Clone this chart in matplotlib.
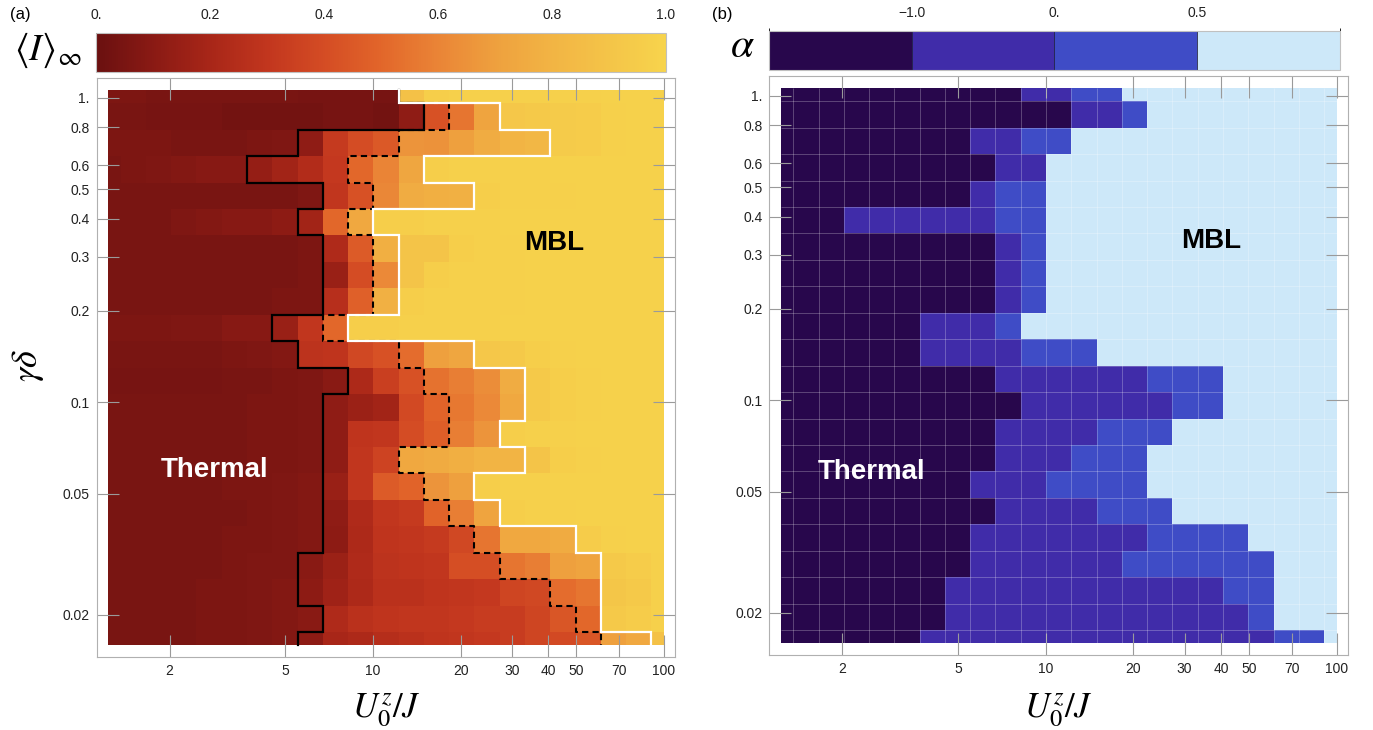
import numpy as np
import matplotlib
matplotlib.use('Agg')
import matplotlib.pyplot as plt
from matplotlib.colors import LinearSegmentedColormap, ListedColormap, BoundaryNorm, Normalize
from matplotlib.cm import ScalarMappable
from matplotlib.ticker import FixedLocator, FixedFormatter, NullLocator

plt.rcParams['font.family'] = ['Liberation Sans', 'DejaVu Sans']
plt.rcParams['mathtext.fontset'] = 'stix'

# grid: U_0^z/J (columns, left -> right) and gamma*delta (rows, top -> bottom)
U = [1.228, 1.500, 1.832, 2.237, 2.732, 3.337, 4.076, 4.979, 6.081, 7.427, 9.072, 11.08,
     13.53, 16.53, 20.19, 24.66, 30.12, 36.79, 44.93, 54.88, 67.03, 81.87, 100.0]
gd = [1.060, 0.868, 0.711, 0.582, 0.476, 0.390, 0.319, 0.262, 0.214, 0.175, 0.1435,
      0.1175, 0.0962, 0.0787, 0.0645, 0.0528, 0.0432, 0.0354, 0.0290, 0.0237, 0.0194, 0.0159]

# panel (a): <I>_inf, one row per gamma*delta
I_inf = [
    [0.06, 0.06, 0.05, 0.05, 0.05, 0.05, 0.05, 0.05, 0.04, 0.04, 0.04, 0.04, 0.88, 0.96, 0.97, 0.97, 0.97, 0.97, 0.97, 0.97, 0.98, 0.98, 0.98],
    [0.05, 0.05, 0.04, 0.04, 0.04, 0.03, 0.03, 0.03, 0.03, 0.04, 0.04, 0.03, 0.12, 0.42, 0.55, 0.72, 0.92, 0.93, 0.94, 0.95, 0.97, 0.98, 0.98],
    [0.06, 0.06, 0.06, 0.05, 0.05, 0.05, 0.06, 0.07, 0.12, 0.32, 0.40, 0.45, 0.66, 0.65, 0.70, 0.76, 0.80, 0.82, 0.94, 0.95, 0.97, 0.98, 0.98],
    [0.05, 0.06, 0.07, 0.08, 0.09, 0.09, 0.14, 0.18, 0.24, 0.31, 0.50, 0.60, 0.73, 0.96, 0.97, 0.97, 0.97, 0.97, 0.98, 0.98, 0.98, 0.98, 0.98],
    [0.05, 0.05, 0.05, 0.05, 0.05, 0.05, 0.05, 0.05, 0.07, 0.30, 0.42, 0.61, 0.76, 0.77, 0.78, 0.96, 0.97, 0.97, 0.97, 0.98, 0.98, 0.98, 0.98],
    [0.05, 0.05, 0.05, 0.07, 0.08, 0.09, 0.09, 0.11, 0.18, 0.50, 0.74, 0.96, 0.96, 0.97, 0.97, 0.97, 0.98, 0.98, 0.98, 0.98, 0.98, 0.98, 0.98],
    [0.05, 0.05, 0.05, 0.05, 0.05, 0.05, 0.05, 0.05, 0.06, 0.23, 0.46, 0.77, 0.90, 0.90, 0.96, 0.97, 0.97, 0.98, 0.98, 0.98, 0.98, 0.98, 0.98],
    [0.05, 0.05, 0.05, 0.05, 0.05, 0.05, 0.05, 0.05, 0.06, 0.15, 0.40, 0.62, 0.90, 0.96, 0.97, 0.97, 0.97, 0.98, 0.98, 0.98, 0.98, 0.98, 0.98],
    [0.05, 0.05, 0.05, 0.05, 0.05, 0.05, 0.05, 0.06, 0.06, 0.26, 0.48, 0.78, 0.96, 0.97, 0.97, 0.97, 0.97, 0.98, 0.98, 0.98, 0.98, 0.98, 0.98],
    [0.06, 0.06, 0.06, 0.07, 0.07, 0.09, 0.09, 0.15, 0.30, 0.50, 0.96, 0.96, 0.97, 0.97, 0.97, 0.97, 0.98, 0.98, 0.98, 0.98, 0.98, 0.98, 0.98],
    [0.05, 0.05, 0.05, 0.05, 0.05, 0.06, 0.07, 0.08, 0.28, 0.29, 0.38, 0.42, 0.52, 0.70, 0.73, 0.92, 0.93, 0.96, 0.97, 0.98, 0.98, 0.98, 0.98],
    [0.04, 0.04, 0.04, 0.04, 0.04, 0.05, 0.05, 0.06, 0.07, 0.10, 0.22, 0.34, 0.42, 0.54, 0.58, 0.63, 0.76, 0.93, 0.96, 0.97, 0.98, 0.98, 0.98],
    [0.05, 0.05, 0.05, 0.05, 0.05, 0.05, 0.06, 0.06, 0.07, 0.12, 0.16, 0.18, 0.39, 0.49, 0.56, 0.62, 0.74, 0.93, 0.96, 0.97, 0.98, 0.98, 0.98],
    [0.05, 0.05, 0.05, 0.05, 0.05, 0.05, 0.06, 0.06, 0.07, 0.12, 0.29, 0.30, 0.40, 0.47, 0.58, 0.66, 0.96, 0.97, 0.97, 0.98, 0.98, 0.98, 0.98],
    [0.05, 0.05, 0.05, 0.05, 0.05, 0.05, 0.06, 0.06, 0.07, 0.12, 0.30, 0.36, 0.74, 0.75, 0.77, 0.80, 0.80, 0.90, 0.96, 0.97, 0.98, 0.98, 0.98],
    [0.05, 0.05, 0.05, 0.05, 0.05, 0.06, 0.06, 0.07, 0.08, 0.15, 0.30, 0.46, 0.49, 0.66, 0.70, 0.96, 0.97, 0.97, 0.98, 0.98, 0.98, 0.98, 0.98],
    [0.05, 0.05, 0.05, 0.05, 0.05, 0.05, 0.06, 0.07, 0.08, 0.12, 0.23, 0.30, 0.32, 0.49, 0.58, 0.72, 0.96, 0.97, 0.97, 0.98, 0.98, 0.98, 0.98],
    [0.05, 0.05, 0.05, 0.05, 0.05, 0.06, 0.06, 0.07, 0.08, 0.11, 0.22, 0.29, 0.30, 0.32, 0.38, 0.55, 0.74, 0.74, 0.75, 0.95, 0.97, 0.98, 0.98],
    [0.05, 0.05, 0.05, 0.05, 0.05, 0.06, 0.07, 0.07, 0.10, 0.16, 0.23, 0.28, 0.29, 0.30, 0.41, 0.41, 0.55, 0.58, 0.70, 0.72, 0.93, 0.95, 0.97],
    [0.05, 0.05, 0.05, 0.05, 0.06, 0.06, 0.07, 0.08, 0.11, 0.17, 0.22, 0.27, 0.27, 0.29, 0.30, 0.31, 0.37, 0.38, 0.52, 0.55, 0.91, 0.93, 0.97],
    [0.05, 0.05, 0.05, 0.05, 0.06, 0.06, 0.07, 0.08, 0.10, 0.23, 0.27, 0.29, 0.30, 0.30, 0.31, 0.33, 0.33, 0.37, 0.44, 0.50, 0.93, 0.95, 0.97],
    [0.05, 0.05, 0.05, 0.05, 0.06, 0.06, 0.07, 0.08, 0.11, 0.20, 0.22, 0.25, 0.27, 0.29, 0.30, 0.31, 0.33, 0.37, 0.39, 0.44, 0.70, 0.74, 0.88],
]

# panel (a) boundaries: number of cells left of each line, per row
solid_edge = [12, 13, 8, 6, 9, 8, 9, 9, 9, 7, 8, 10, 9, 9, 9, 9, 9, 9, 8, 8, 9, 8]
dashed_edge = [12, 14, 12, 10, 11, 10, 11, 11, 11, 9, 12, 13, 14, 14, 12, 13, 14, 15, 16, 18, 19, 20]
white_edge = [12, 16, 18, 13, 15, 11, 12, 12, 12, 10, 15, 17, 17, 16, 17, 15, 16, 19, 20, 20, 20, 22]

# panel (b): alpha class per cell (0: a<-1, 1: -1..0, 2: 0..0.5, 3: a>0.5)
alpha_phase = [
    "00000000001122333333333",
    "00000000000011233333333",
    "00000000112233333333333",
    "00000000011333333333333",
    "00000000122333333333333",
    "00011111122333333333333",
    "00000000012333333333333",
    "00000000012333333333333",
    "00000000012333333333333",
    "00000011123333333333333",
    "00000011112223333333333",
    "00000000011111122233333",
    "00000000001111112233333",
    "00000000011112223333333",
    "00000000011122233333333",
    "00000000111222233333333",
    "00000000011112223333333",
    "00000000111111122223333",
    "00000000111111222222333",
    "00000001111111111122333",
    "00000001111111111112333",
    "00000011111111111111223",
]
alpha_levels = [-1.0, 0.0, 0.5]

x_ticks = [2, 5, 10, 20, 30, 40, 50, 70, 100]
x_labels = ['2', '5', '10', '20', '30', '40', '50', '70', '100']
y_ticks = [1.0, 0.8, 0.6, 0.5, 0.4, 0.3, 0.2, 0.1, 0.05, 0.02]
y_labels = ['1.', '0.8', '0.6', '0.5', '0.4', '0.3', '0.2', '0.1', '0.05', '0.02']

# colours
cmap_a = LinearSegmentedColormap.from_list('rust', [
    (0.0, '#6a1010'), (0.1, '#8a1a14'), (0.2, '#a82618'), (0.3, '#c2361e'),
    (0.4, '#d44c24'), (0.5, '#e2662a'), (0.6, '#ea8436'), (0.7, '#eea03e'),
    (0.8, '#f2b444'), (0.9, '#f4c448'), (1.0, '#f7d44c')])
cmap_b = ListedColormap(['#28074c', '#402ca9', '#3f4cc6', '#cde8f9'])


def cell_edges(c):
    c = np.asarray(c, float)
    mid = np.sqrt(c[:-1] * c[1:])
    return np.concatenate([[c[0]], mid, [c[-1]]])


xe = cell_edges(U)
ye = cell_edges(gd)


def staircase(ax, edge_idx, **kw):
    xs, ys = [], []
    for k, e in enumerate(edge_idx):
        xs += [xe[e], xe[e]]
        ys += [ye[k], ye[k + 1]]
    ax.plot(xs, ys, **kw)


def style_axes(ax):
    ax.set_xscale('log')
    ax.set_yscale('log')
    ax.set_xlim(1.123, 109)
    ax.set_ylim(0.01455, 1.16)
    ax.xaxis.set_major_locator(FixedLocator(x_ticks))
    ax.xaxis.set_major_formatter(FixedFormatter(x_labels))
    ax.yaxis.set_major_locator(FixedLocator(y_ticks))
    ax.yaxis.set_major_formatter(FixedFormatter(y_labels))
    ax.xaxis.set_minor_locator(NullLocator())
    ax.yaxis.set_minor_locator(NullLocator())
    ax.tick_params(which='major', direction='in', length=16, width=0.8, color='#9a9a9a',
                   top=True, right=True, labelsize=10, pad=5, labelcolor='#222222')
    for s in ax.spines.values():
        s.set_color('#b0b0b0')
        s.set_linewidth(0.8)


W, H = 1373, 730
fig = plt.figure(figsize=(W / 100, H / 100), dpi=100)

ax_a = fig.add_axes([96.7 / W, 73 / H, 578.2 / W, 578.9 / H])
ax_b = fig.add_axes([769.4 / W, 75 / H, 578.2 / W, 578.9 / H])
cax_a = fig.add_axes([96 / W, 1 - 72 / H, 570 / W, 39 / H])
cax_b = fig.add_axes([769 / W, 1 - 70 / H, 571 / W, 39 / H])

# panel (a)
ax_a.pcolormesh(xe, ye, np.array(I_inf), cmap=cmap_a, vmin=0, vmax=1, shading='flat')
staircase(ax_a, solid_edge, color='black', lw=1.6, solid_joinstyle='miter')
staircase(ax_a, dashed_edge, color='black', lw=1.5, linestyle=(0, (3, 2)))
staircase(ax_a, white_edge, color='white', lw=1.6, solid_joinstyle='miter')
style_axes(ax_a)
ax_a.text(2.86, 0.0598, 'Thermal', color='white', fontsize=20, fontweight='bold',
          ha='center', va='center')
ax_a.text(42.0, 0.333, 'MBL', color='black', fontsize=20, fontweight='bold',
          ha='center', va='center')

# panel (b)
phase = np.array([[int(ch) for ch in row] for row in alpha_phase])
ax_b.pcolormesh(xe, ye, phase, cmap=cmap_b, vmin=-0.5, vmax=3.5, shading='flat')
ax_b.vlines(xe[1:-1], ye[-1], ye[0], color='white', alpha=0.25, lw=0.7)
ax_b.hlines(ye[1:-1], xe[0], xe[-1], color='white', alpha=0.25, lw=0.7)
style_axes(ax_b)
ax_b.text(2.53, 0.058, 'Thermal', color='white', fontsize=20, fontweight='bold',
          ha='center', va='center')
ax_b.text(37.0, 0.333, 'MBL', color='black', fontsize=20, fontweight='bold',
          ha='center', va='center')

# colorbars
cb_a = fig.colorbar(ScalarMappable(norm=Normalize(0, 1), cmap=cmap_a), cax=cax_a,
                    orientation='horizontal')
cb_a.set_ticks([0, 0.2, 0.4, 0.6, 0.8, 1.0])
cb_a.set_ticklabels(['0.', '0.2', '0.4', '0.6', '0.8', '1.0'])
cax_a.xaxis.set_ticks_position('top')
cax_a.tick_params(length=0, pad=8, labelsize=10, labelcolor='#222222')
cb_a.outline.set_edgecolor('#c0c0c0')
cb_a.outline.set_linewidth(0.8)

bounds_b = [-2.0] + alpha_levels + [1.0]
cb_b = fig.colorbar(ScalarMappable(norm=BoundaryNorm(bounds_b, 4), cmap=cmap_b), cax=cax_b,
                    orientation='horizontal', spacing='uniform', drawedges=True)
cb_b.set_ticks(alpha_levels)
cb_b.set_ticklabels(['\u22121.0', '0.', '0.5'])
cax_b.xaxis.set_ticks_position('top')
cax_b.tick_params(length=0, pad=8, labelsize=10, labelcolor='#222222')
cb_b.outline.set_edgecolor('#c0c0c0')
cb_b.outline.set_linewidth(0.8)
cb_b.dividers.set_color('#222244')
cb_b.dividers.set_linewidth(0.6)

# labels
fig.text(20 / W, 1 - 15 / H, '(a)', fontsize=12, ha='center', va='center')
fig.text(722 / W, 1 - 15 / H, '(b)', fontsize=12, ha='center', va='center')
fig.text(48 / W, 1 - 50 / H, r'$\langle I\rangle_\infty$', fontsize=27, ha='center', va='center')
fig.text(742 / W, 1 - 46 / H, r'$\alpha$', fontsize=30, ha='center', va='center')
fig.text(386 / W, 1 - 710 / H, r'$U_0^z/J$', fontsize=25, ha='center', va='center')
fig.text(1058 / W, 1 - 710 / H, r'$U_0^z/J$', fontsize=25, ha='center', va='center')
fig.text(28 / W, 1 - 365 / H, r'$\gamma\delta$', fontsize=26, rotation=90, ha='center', va='center')

fig.savefig('out.png', dpi=100)
